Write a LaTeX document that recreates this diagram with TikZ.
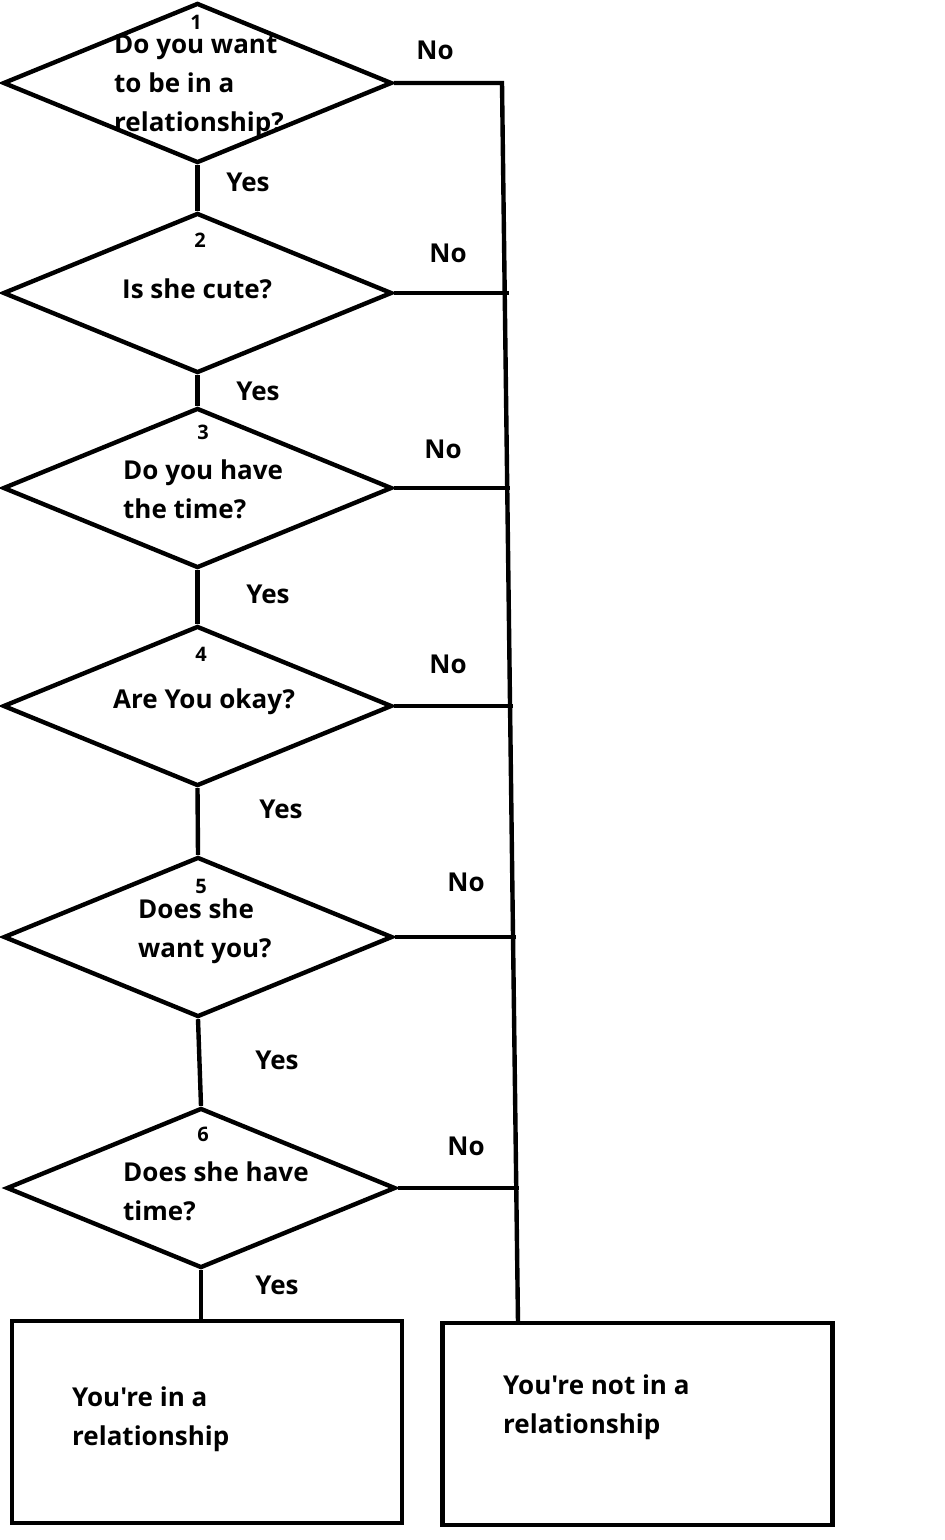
\documentclass[tikz,border=0pt]{standalone}
\usepackage{fontspec}
\setmainfont{Open Sans}[Ligatures=TeXOff]
\usetikzlibrary{shapes.geometric}
\begin{document}
\begin{tikzpicture}[x=0.5pt, y=-0.5pt, line width=2.2pt, line join=miter,
  font=\fontsize{13}{19.5}\selectfont\bfseries,
  question/.style={diamond, draw, minimum width=194.5pt, minimum height=80pt, inner sep=0pt},
  result/.style={rectangle, draw, minimum width=195pt, minimum height=101pt, inner sep=0pt},
  txt/.style={anchor=west, align=left, inner sep=0pt},
  num/.style={font=\fontsize{10}{11}\selectfont\bfseries, inner sep=0pt}]
\useasboundingbox (0,0) rectangle (944,1540);
% questions
\node[question] (q1) at (197.5,83) {};
\node[question] (q2) at (197.5,293) {};
\node[question] (q3) at (197.5,488) {};
\node[question] (q4) at (197.5,706) {};
\node[question] (q5) at (198,937) {};
\node[question] (q6) at (201,1188) {};
\node[result] (yb) at (207,1422) {};
\node[result] (nb) at (637.5,1424) {};
% texts
\node[num] (n1) at (196,22) {1};
\node[num] (n2) at (200,240) {2};
\node[num] (n3) at (203,432) {3};
\node[num] (n4) at (201,654) {4};
\node[num] (n5) at (201,886) {5};
\node[num] (n6) at (203,1134) {6};
\node[txt] (t1) at (112,86) {Do you want\\to be in a\\relationship?};
\node[txt] (t2) at (120,289) {Is she cute?};
\node[txt] (t3) at (121,489) {Do you have\\the time?};
\node[txt] (t4) at (111,702) {Are You okay?};
\node[txt] (t5) at (136,931) {Does she\\want you?};
\node[txt] (t6) at (121,1191) {Does she have\\time?};
\node[txt] (t7) at (70,1419) {You're in a\\relationship};
\node[txt] (t8) at (501,1407) {You're not in a\\relationship};
% yes / no
\node (yes1) at (248,182) {Yes};
\node (yes2) at (258,391) {Yes};
\node (yes3) at (268,594) {Yes};
\node (yes4) at (281,809) {Yes};
\node (yes5) at (277,1060) {Yes};
\node (yes6) at (277,1285) {Yes};
\node (no1) at (435,50) {No};
\node (no2) at (448,253) {No};
\node (no3) at (443,449) {No};
\node (no4) at (448,664) {No};
\node (no5) at (466,882) {No};
\node (no6) at (466,1146) {No};
% connectors
\coordinate (j1) at (502,83);
\coordinate (j2) at (509,293);
\coordinate (j3) at (510,488);
\coordinate (j4) at (513,706);
\coordinate (j5) at (516,937);
\coordinate (j6) at (519,1188);
\coordinate (j7) at (518,1323);
\draw (q1.south) -- (q2.north);
\draw (q2.south) -- (q3.north);
\draw (q3.south) -- (q4.north);
\draw (q4.south) -- (q5.north);
\draw (q5.south) -- (q6.north);
\draw (q6.south) -- (q6.south |- yb.north);
\draw (q1.east) -- (j1) -- (j7);
\draw (q2.east) -- (j2);
\draw (q3.east) -- (j3);
\draw (q4.east) -- (j4);
\draw (q5.east) -- (j5);
\draw (q6.east) -- (j6);
\end{tikzpicture}
\end{document}
